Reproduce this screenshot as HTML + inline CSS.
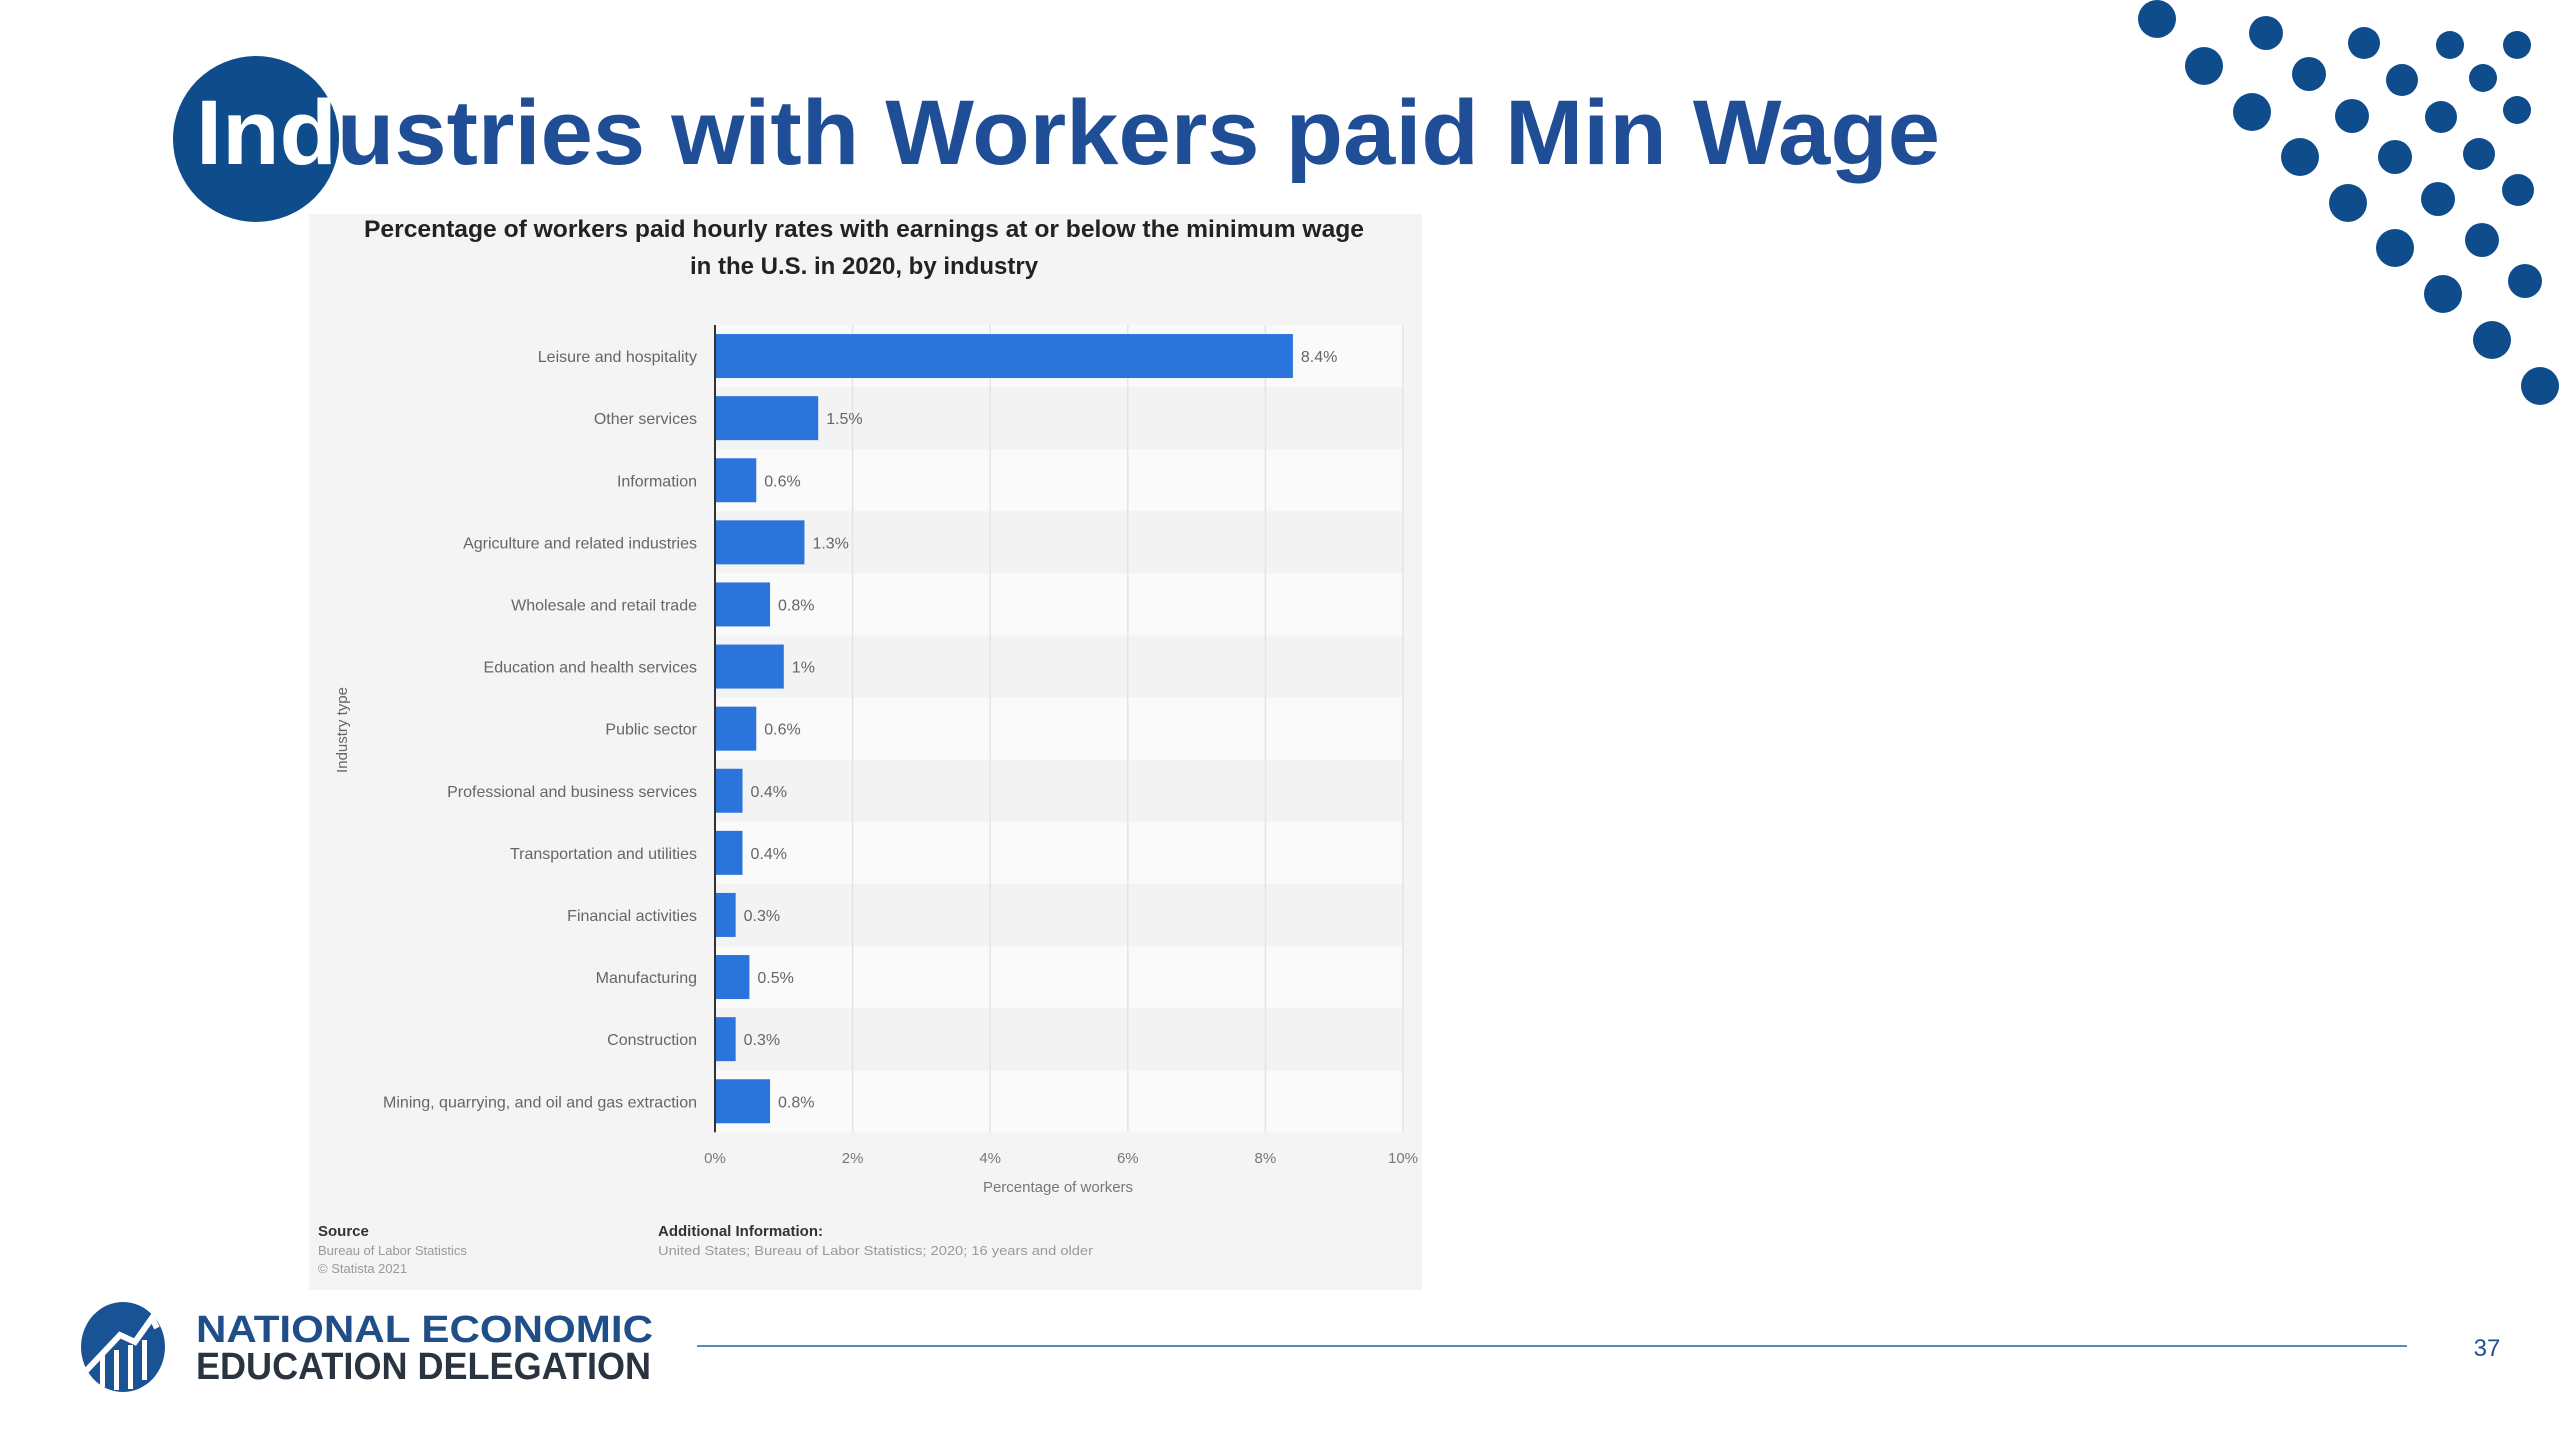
<!DOCTYPE html>
<html><head><meta charset="utf-8"><style>
html,body{margin:0;padding:0;background:#fff;}
svg{display:block;}
text{font-family:"Liberation Sans",sans-serif;}
</style></head><body>
<svg id="s" width="2560" height="1440" viewBox="0 0 2560 1440" xmlns="http://www.w3.org/2000/svg">
<g id="dots"></g>
<circle cx="256" cy="139" r="83" fill="#0f4c8c"/>
<text x="196" y="164" font-size="92" font-weight="bold" fill="#1f4e96" textLength="1744" lengthAdjust="spacingAndGlyphs"><tspan fill="#ffffff">Ind</tspan>ustries with Workers paid Min Wage</text>

<rect x="309" y="214" width="1113" height="1076" fill="#f4f4f4"/>
<text x="864" y="237" font-size="24" font-weight="bold" fill="#222" text-anchor="middle" textLength="1000" lengthAdjust="spacingAndGlyphs">Percentage of workers paid hourly rates with earnings at or below the minimum wage</text>
<text x="864" y="274" font-size="24" font-weight="bold" fill="#222" text-anchor="middle">in the U.S. in 2020, by industry</text>
<g id="plot"></g>
<text transform="translate(347,730) rotate(-90)" font-size="15" fill="#666" text-anchor="middle">Industry type</text>
<text x="1058" y="1192" font-size="15" fill="#777" text-anchor="middle">Percentage of workers</text>
<text x="318" y="1236" font-size="15" font-weight="bold" fill="#333">Source</text>
<text x="318" y="1255" font-size="13" fill="#999">Bureau of Labor Statistics</text>
<text x="318" y="1273" font-size="13" fill="#999">© Statista 2021</text>
<text x="658" y="1236" font-size="15" font-weight="bold" fill="#333">Additional Information:</text>
<text x="658" y="1255" font-size="13" fill="#999" textLength="435" lengthAdjust="spacingAndGlyphs">United States; Bureau of Labor Statistics; 2020; 16 years and older</text>

<g>
<ellipse cx="123" cy="1347" rx="42" ry="45" fill="#1a5296"/>
<path d="M85 1372 L120 1335 L135 1342 L152 1318 L157 1328" stroke="#fff" stroke-width="6" fill="none"/>
<rect x="100" y="1355" width="5" height="32" fill="#fff"/><rect x="114" y="1350" width="5" height="40" fill="#fff"/><rect x="128" y="1345" width="5" height="44" fill="#fff"/><rect x="142" y="1340" width="5" height="40" fill="#fff"/>
<text x="196" y="1342" font-size="38" font-weight="bold" fill="#1f4e88" textLength="457" lengthAdjust="spacingAndGlyphs">NATIONAL ECONOMIC</text>
<text x="196" y="1379" font-size="38" font-weight="bold" fill="#2a3440" textLength="455" lengthAdjust="spacingAndGlyphs">EDUCATION DELEGATION</text>
</g>
<line x1="697" y1="1346" x2="2407" y2="1346" stroke="#5a86b8" stroke-width="2"/>
<text x="2487" y="1356" font-size="24" fill="#1f4e96" text-anchor="middle">37</text>
</svg>
<script>
const categories=["Leisure and hospitality","Other services","Information","Agriculture and related industries","Wholesale and retail trade","Education and health services","Public sector","Professional and business services","Transportation and utilities","Financial activities","Manufacturing","Construction","Mining, quarrying, and oil and gas extraction"];
const values=[8.4,1.5,0.6,1.3,0.8,1,0.6,0.4,0.4,0.3,0.5,0.3,0.8];
const valueLabels=["8.4%","1.5%","0.6%","1.3%","0.8%","1%","0.6%","0.4%","0.4%","0.3%","0.5%","0.3%","0.8%"];
const ticks=[0,2,4,6,8,10];
const tickLabels=["0%","2%","4%","6%","8%","10%"];

const NS="http://www.w3.org/2000/svg";
function mk(t,a,p){const e=document.createElementNS(NS,t);for(const k in a)e.setAttribute(k,a[k]);p.appendChild(e);return e;}
const plot=document.getElementById('plot');
const X0=715,X1=1403,Y0=325,STEP=62.1;
const xs=v=>X0+(X1-X0)*v/10;
const yc=i=>Y0+STEP*(i+0.5);
categories.forEach((c,i)=>{
  const b=mk('rect',{x:X0,y:Y0+STEP*i,width:X1-X0,height:STEP,fill:i%2?'#f3f3f3':'#fafafa'},plot);
  
  
});
ticks.forEach((t,i)=>{
  if(i>0){const g=mk('line',{x1:xs(t),x2:xs(t),y1:Y0,y2:Y0+STEP*categories.length,stroke:'#e4e4e4','stroke-width':1.5},plot);
  
  }
  const l=mk('text',{x:xs(t),y:1163,'font-size':15,fill:'#777','text-anchor':'middle'},plot);
  l.textContent=tickLabels[i];
  
  
});
categories.forEach((c,i)=>{
  const r=mk('rect',{x:X0,y:yc(i)-22,width:xs(values[i])-X0,height:44,fill:'#2a74db'},plot);
  
  
  const t=mk('text',{x:697,y:yc(i)+6,'font-size':16,fill:'#666','text-anchor':'end'},plot);
  t.textContent=c;
  
  
  const v=mk('text',{x:xs(values[i])+8,y:yc(i)+6,'font-size':16,fill:'#666'},plot);
  v.textContent=valueLabels[i];
  
  
});
const ax=mk('line',{x1:X0,x2:X0,y1:Y0,y2:Y0+STEP*categories.length,stroke:'#333','stroke-width':2},plot);



const dotsG=document.getElementById('dots');
[[2157,19,19],[2266,33,17],[2364,43,16],[2450,45,14],[2517,45,14],[2204,66,19],[2309,74,17],[2402,80,16],[2483,78,14],[2517,110,14],[2252,112,19],[2352,116,17],[2441,117,16],[2479,154,16],[2395,157,17],[2300,157,19],[2348,203,19],[2438,199,17],[2518,190,16],[2482,240,17],[2395,248,19],[2525,281,17],[2443,294,19],[2492,340,19],[2540,386,19]].forEach(d=>{
  const c=mk('circle',{cx:d[0],cy:d[1],r:d[2],fill:'#0f4c8c'},dotsG);
  
  
});
</script>
</body></html>
